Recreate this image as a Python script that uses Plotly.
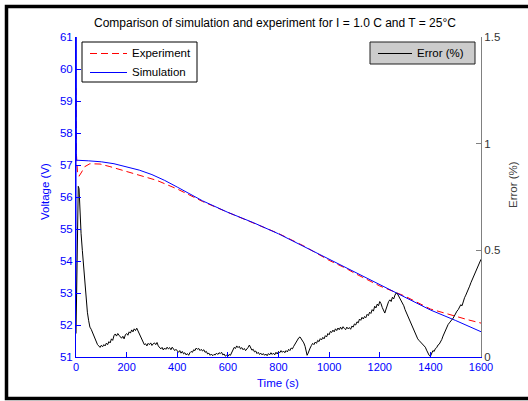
import plotly.graph_objects as go

# ---------------- data ----------------
sim_t = [0, 0.4, 1.2, 50, 100, 150, 200, 250, 300, 350, 400, 450, 500, 600, 700, 800,
         900, 1000, 1100, 1200, 1300, 1400, 1500, 1600]
sim_v = [52.8, 63.0, 57.15, 57.13, 57.10, 57.04, 56.95, 56.84, 56.70, 56.52, 56.31, 56.09,
         55.88, 55.52, 55.20, 54.85, 54.45, 54.05, 53.65, 53.26, 52.87, 52.47, 52.14, 51.79]

exp_t = [0, 1, 2, 6, 12, 20, 35, 55, 95, 134, 200, 240, 319, 400, 463, 500, 600, 700,
         800, 900, 1000, 1069, 1100, 1200, 1267, 1300, 1400, 1450, 1500, 1550, 1600]
exp_v = [59.4, 58.4, 57.3, 56.75, 56.65, 56.75, 56.95, 57.04, 57.03, 56.95, 56.80, 56.70,
         56.52, 56.25, 55.99, 55.86, 55.52, 55.19, 54.86, 54.47, 54.02, 53.76, 53.62, 53.22,
         53.00, 52.90, 52.50, 52.38, 52.28, 52.16, 52.06]

err_t = [0, 3, 6, 9, 12, 16, 20, 25, 30, 35, 40, 45, 50, 55, 60, 65, 70, 75, 80, 85, 90, 95,
         100, 105, 110, 115, 120, 125, 130, 135, 140, 145, 150, 155, 160, 165, 170, 175, 180,
         185, 190, 195, 200, 205, 210, 215, 220, 225, 230, 235, 240, 245, 250, 255, 260, 265,
         270, 275, 280, 285, 290, 295, 300, 305, 310, 315, 320, 325, 330, 335, 340, 345, 350,
         355, 360, 365, 370, 375, 380, 385, 390, 395, 400, 405, 410, 415, 420, 425, 430, 435,
         440, 445, 450, 455, 460, 465, 470, 475, 480, 485, 490, 495, 500, 505, 510, 515, 520,
         525, 530, 535, 540, 545, 550, 555, 560, 565, 570, 575, 580, 585, 590, 595, 600, 605,
         610, 615, 620, 625, 630, 635, 640, 645, 650, 655, 660, 665, 670, 675, 680, 685, 690,
         695, 700, 705, 710, 715, 720, 725, 730, 735, 740, 745, 750, 755, 760, 765, 770, 775,
         780, 785, 790, 795, 800, 805, 810, 815, 820, 825, 830, 835, 840, 845, 850, 855, 860,
         865, 870, 875, 880, 885, 890, 895, 900, 905, 910, 913, 917, 920, 925, 930, 935, 940,
         945, 950, 955, 960, 965, 970, 975, 980, 985, 990, 995, 1000, 1005, 1010, 1015, 1020,
         1025, 1030, 1035, 1040, 1045, 1050, 1055, 1060, 1065, 1070, 1075, 1080, 1085, 1090,
         1095, 1100, 1105, 1110, 1115, 1120, 1125, 1130, 1135, 1140, 1145, 1150, 1155, 1160,
         1165, 1170, 1175, 1180, 1185, 1190, 1195, 1200, 1205, 1210, 1215, 1220, 1225, 1230,
         1235, 1240, 1245, 1250, 1255, 1260, 1265, 1270, 1275, 1280, 1285, 1290, 1295, 1300,
         1305, 1310, 1315, 1320, 1325, 1330, 1335, 1340, 1345, 1350, 1355, 1360, 1365, 1370,
         1375, 1380, 1385, 1390, 1395, 1400, 1405, 1410, 1415, 1420, 1425, 1430, 1435, 1440,
         1445, 1450, 1455, 1460, 1465, 1470, 1475, 1480, 1485, 1490, 1495, 1500, 1505, 1510,
         1515, 1520, 1525, 1530, 1535, 1540, 1545, 1550, 1555, 1560, 1565, 1570, 1575, 1580,
         1585, 1590, 1595, 1600]
err_v = [0.11, 0.45, 0.72, 0.80, 0.79, 0.67, 0.58, 0.50, 0.42, 0.35, 0.27, 0.21, 0.17, 0.14,
         0.13, 0.115, 0.10, 0.08, 0.065, 0.058, 0.052, 0.045,
         0.055, 0.048, 0.058, 0.052, 0.065, 0.058, 0.072, 0.066, 0.085, 0.078, 0.10, 0.108,
         0.098, 0.11, 0.102, 0.094, 0.088, 0.097, 0.085, 0.104, 0.11, 0.102, 0.118, 0.112,
         0.127, 0.118, 0.132, 0.124, 0.135, 0.122, 0.108, 0.095, 0.078, 0.065, 0.058, 0.062,
         0.052, 0.064, 0.058, 0.066, 0.054, 0.062, 0.066, 0.058, 0.068, 0.052, 0.045, 0.038,
         0.045, 0.033, 0.042, 0.036, 0.046, 0.038, 0.044, 0.034, 0.046, 0.040, 0.030, 0.036,
         0.028, 0.022, 0.030, 0.018, 0.026, 0.015, 0.020, 0.010, 0.016, 0.008, 0.020, 0.026,
         0.022, 0.034, 0.030, 0.042, 0.036, 0.040, 0.030, 0.036, 0.028, 0.034, 0.022, 0.026,
         0.014, 0.018, 0.008, 0.014, 0.006, 0.012, 0.010, 0.018, 0.012, 0.020, 0.016, 0.022,
         0.010, 0.014, 0.004, 0.008, 0.003, 0.012, 0.008, 0.020, 0.030, 0.045, 0.040, 0.052,
         0.044, 0.050, 0.038, 0.044, 0.034, 0.040, 0.030, 0.036, 0.045, 0.056, 0.040, 0.032,
         0.036, 0.024, 0.028, 0.016, 0.022, 0.012, 0.018, 0.010, 0.016, 0.008, 0.014, 0.006,
         0.016, 0.010, 0.020, 0.012, 0.018, 0.010, 0.022, 0.014, 0.026, 0.020, 0.030, 0.022,
         0.028, 0.020, 0.030, 0.024, 0.036, 0.030, 0.042, 0.038, 0.050, 0.060, 0.072, 0.082,
         0.090, 0.094, 0.086, 0.075, 0.066, 0.050, 0.020, 0.008, 0.018, 0.030, 0.042, 0.054,
         0.064, 0.058, 0.070, 0.064, 0.078, 0.072, 0.086, 0.080, 0.092, 0.085, 0.100, 0.094,
         0.110, 0.104, 0.120, 0.115, 0.126, 0.118, 0.132, 0.124, 0.136, 0.128, 0.140, 0.130,
         0.142, 0.134, 0.128, 0.140, 0.132, 0.138, 0.130, 0.145, 0.140, 0.155, 0.150, 0.165,
         0.160, 0.178, 0.172, 0.186, 0.178, 0.190, 0.184, 0.200, 0.194, 0.210, 0.204, 0.222,
         0.215, 0.238, 0.230, 0.248, 0.240, 0.260, 0.250, 0.232, 0.220, 0.206, 0.225, 0.248,
         0.260, 0.268, 0.260, 0.280, 0.272, 0.290, 0.300, 0.296, 0.285, 0.272, 0.262, 0.255,
         0.240, 0.222, 0.208, 0.195, 0.178, 0.164, 0.150, 0.138, 0.122, 0.108, 0.094, 0.085,
         0.078, 0.072, 0.066, 0.060, 0.052, 0.046, 0.032, 0.018, 0.008, 0.003, 0.015, 0.030,
         0.026, 0.040, 0.044, 0.056, 0.060, 0.070, 0.082, 0.098, 0.114, 0.130, 0.142, 0.152,
         0.160, 0.170, 0.175, 0.182, 0.196, 0.205, 0.215, 0.222, 0.235, 0.245, 0.240, 0.262,
         0.278, 0.290, 0.302, 0.318, 0.332, 0.348, 0.362, 0.374, 0.386, 0.398, 0.410, 0.424,
         0.440, 0.458]

x_ticks = [0, 200, 400, 600, 800, 1000, 1200, 1400, 1600]
y_ticks = [51, 52, 53, 54, 55, 56, 57, 58, 59, 60, 61]
y2_ticks = [0, 0.5, 1, 1.5]
y2_labels = ["0", "0.5", "1", "1.5"]

title_text = "Comparison of simulation and experiment for I = 1.0 C and T = 25\u00b0C"

# ---------------- figure ----------------
W, H = 528, 401
L, R, T, B = 76, 481, 37, 357  # plot area in pixels


def px(xp):
    return (xp - L) / (R - L)


def py(yp):
    return (B - yp) / (B - T)


FONT = "Liberation Sans, Arial, sans-serif"
BLUE = "#0000ff"
RED = "#ff0000"
EXP_DASH = "7px,4px"

fig = go.Figure()
fig.add_trace(go.Scatter(x=exp_t, y=exp_v, mode="lines", name="Experiment",
                         line=dict(color=RED, width=1, dash=EXP_DASH), showlegend=False))
fig.add_trace(go.Scatter(x=sim_t, y=sim_v, mode="lines", name="Simulation",
                         line=dict(color=BLUE, width=1), showlegend=False))
fig.add_trace(go.Scatter(x=err_t, y=err_v, mode="lines", name="Error (%)",
                         line=dict(color="#000000", width=1), yaxis="y2",
                         showlegend=False))

fig.update_layout(
    width=W, height=H,
    margin=dict(l=L, r=W - R, t=T, b=H - B, pad=0),
    paper_bgcolor="white", plot_bgcolor="white",
    font=dict(family=FONT, size=11, color="black"),
    showlegend=False,
    xaxis=dict(range=[0, 1600], tickvals=x_ticks, ticks="inside", ticklen=5,
               tickcolor=BLUE, showline=True, linecolor=BLUE, linewidth=1,
               showgrid=False, zeroline=False, tickfont=dict(color=BLUE, size=11),
               mirror=False),
    yaxis=dict(range=[51, 61], tickvals=y_ticks, ticks="inside", ticklen=5,
               tickcolor=BLUE, showline=True, linecolor=BLUE, linewidth=1,
               showgrid=False, zeroline=False, tickfont=dict(color=BLUE, size=11.5)),
    yaxis2=dict(range=[0, 1.5], tickvals=y2_ticks, ticktext=y2_labels, overlaying="y",
                side="right", ticks="inside", ticklen=5, tickcolor="#808080",
                showline=True, linecolor="#808080", linewidth=1, showgrid=False,
                zeroline=False, tickfont=dict(color="#333333", size=11.5)),
)

# legend boxes
fig.add_shape(type="rect", xref="paper", yref="paper", layer="above",
              x0=px(82), x1=px(197), y0=py(82), y1=py(42),
              line=dict(color="black", width=1), fillcolor="white")
fig.add_shape(type="rect", xref="paper", yref="paper", layer="above",
              x0=px(370), x1=px(475), y0=py(64), y1=py(42),
              line=dict(color="#202020", width=1), fillcolor="#cccccc")

# legend entries (drawn by hand)
legend_entries = [
    ("Experiment", RED, EXP_DASH, 90, 127, 53),
    ("Simulation", BLUE, "solid", 90, 127, 72),
    ("Error (%)", "black", "solid", 378, 412, 53),
]
for label, col, dash, xa, xb, yy in legend_entries:
    fig.add_shape(type="line", xref="paper", yref="paper", layer="above",
                  x0=px(xa), x1=px(xb), y0=py(yy + 0.5), y1=py(yy + 0.5),
                  line=dict(color=col, width=1, dash=dash))
    fig.add_annotation(text=label, xref="paper", yref="paper", x=px(xb + 3), y=py(yy),
                       showarrow=False, xanchor="left", yanchor="middle",
                       font=dict(size=11.5, color="black"))

fig.add_annotation(text=title_text, xref="paper", yref="paper", x=px(275), y=py(23),
                   showarrow=False, xanchor="center", yanchor="middle",
                   font=dict(size=12, color="black"))
fig.add_annotation(text="Time (s)", xref="paper", yref="paper", x=px(278), y=py(383),
                   showarrow=False, xanchor="center", yanchor="middle",
                   font=dict(size=11.5, color=BLUE))
fig.add_annotation(text="Voltage (V)", xref="paper", yref="paper", x=px(45), y=py(192),
                   showarrow=False, xanchor="center", yanchor="middle", textangle=-90,
                   font=dict(size=11.5, color=BLUE))
fig.add_annotation(text="Error (%)", xref="paper", yref="paper", x=px(513), y=py(185),
                   showarrow=False, xanchor="center", yanchor="middle", textangle=-90,
                   font=dict(size=11.5, color="#404040"))

# outer black frame
fig.add_shape(type="rect", xref="paper", yref="paper",
              x0=px(6.5), x1=px(540), y0=py(398.5), y1=py(6.5),
              line=dict(color="black", width=3.5), fillcolor="rgba(0,0,0,0)")

fig.write_html("out.html", config={"displayModeBar": False},
               post_script="document.body.style.margin='0';document.body.style.padding='0';")
